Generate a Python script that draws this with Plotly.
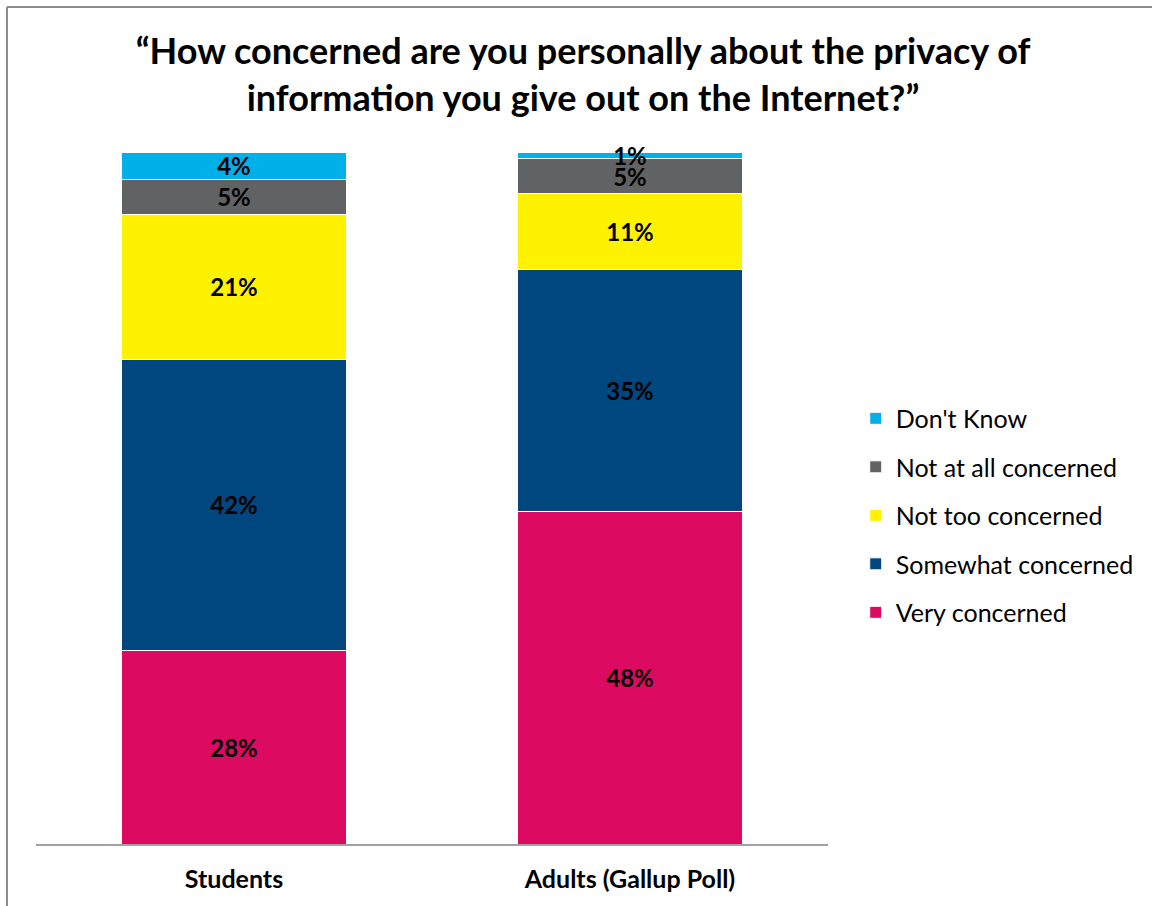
import plotly.graph_objects as go

# Survey responses, percent of respondents
categories = ["Students", "Adults (Gallup Poll)"]
series_names = ["Very concerned", "Somewhat concerned", "Not too concerned",
                "Not at all concerned", "Don't Know"]
very_concerned = [28, 48]
somewhat_concerned = [42, 35]
not_too_concerned = [21, 11]
not_at_all_concerned = [5, 5]
dont_know = [4, 1]
series_values = [very_concerned, somewhat_concerned, not_too_concerned,
                 not_at_all_concerned, dont_know]
series_colors = ["#DC0A60", "#00467F", "#FFF200", "#616264", "#00B0E8"]

FONT = "Lato"

fig = go.Figure()
for i, (name, vals, color) in enumerate(zip(series_names, series_values, series_colors)):
    fig.add_trace(go.Bar(
        x=categories,
        y=vals,
        name=name,
        legendgroup=name,
        legendrank=len(series_names) - i,  # top segment listed first
        marker=dict(color=color, line=dict(color="white", width=1)),
        text=[f"{v}%" for v in vals],
        textposition="inside",
        insidetextanchor="middle",
        constraintext="none",
        cliponaxis=False,
        textfont=dict(family=FONT, size=24, color="black", weight="bold"),
        hoverinfo="skip",
    ))

fig.update_layout(
    barmode="stack",
    bargap=0.43,
    width=1152,
    height=906,
    margin=dict(l=36, r=324, t=152, b=62),
    paper_bgcolor="white",
    plot_bgcolor="white",
    title=dict(
        text="“How concerned are you personally about the privacy of<br>information you give out on the Internet?”",
        font=dict(family=FONT, size=36, color="black", weight="bold"),
        x=583 / 1152, xref="container", xanchor="center",
        y=1 - 64 / 906, yref="container", yanchor="middle",
    ),
    xaxis=dict(
        showline=True, linecolor="#A0A0A0", linewidth=2,
        ticks="", showgrid=False, ticklabelstandoff=12,
        tickfont=dict(family=FONT, size=25, color="black", weight="bold"),
    ),
    yaxis=dict(range=[0, 100], visible=False, showgrid=False),
    legend=dict(
        traceorder="grouped",
        tracegroupgap=13,
        font=dict(family=FONT, size=25, color="black"),
        x=1.035, xanchor="left",
        y=0.648, yanchor="top",
        bgcolor="rgba(0,0,0,0)",
    ),
    showlegend=True,
)

# Chart frame along the top and left edges
fig.add_shape(type="line", xref="paper", yref="paper",
              x0=-29 / 792, x1=1200 / 792, y0=1 + 145 / 692, y1=1 + 145 / 692,
              line=dict(color="#8C8C8C", width=2))
fig.add_shape(type="line", xref="paper", yref="paper",
              x0=-29 / 792, x1=-29 / 792, y0=1 + 145 / 692, y1=-100 / 692,
              line=dict(color="#8C8C8C", width=2))

fig.write_html("out.html")
